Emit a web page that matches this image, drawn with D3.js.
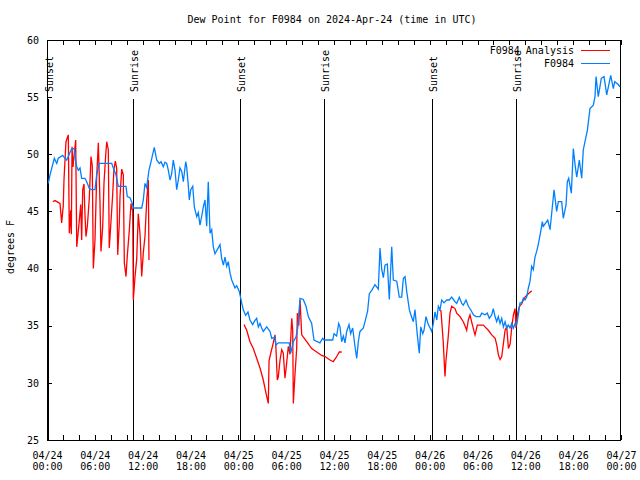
<!DOCTYPE html>
<html>
<head>
<meta charset="utf-8">
<script src="https://cdn.jsdelivr.net/npm/d3@7"></script>
<style>
  html, body { margin: 0; padding: 0; background: #fff; }
  svg { display: block; }
  text { font-family: "DejaVu Sans Mono", "Liberation Mono", monospace; font-size: 10px; fill: #000; }
</style>
</head>
<body>
<svg id="chart" width="640" height="480"></svg>
<script>
// ---------- data ----------
const chartTitle = "Dew Point for F0984 on 2024-Apr-24 (time in UTC)";
const yLabel = "degrees F";
const seriesNames = ["F0984 Analysis", "F0984"];
const yTicks = [25, 30, 35, 40, 45, 50, 55, 60];
const startDay = "2024-04-24";
const endHour = 72;

// Sun events (hours since 04/24 00:00 UTC)
const sunHours = [0.13, 10.83, 24.21, 34.75, 48.3, 58.83];
const sunLabels = ["Sunset", "Sunrise", "Sunset", "Sunrise", "Sunset", "Sunrise"];

// F0984 observations
const obsHours = [0.16,0.38,0.92,1.22,1.42,1.97,2.26,2.47,3.10,3.42,3.51,3.73,3.93,4.14,4.35,4.77,4.98,5.31,5.61,6.02,6.23,6.56,8.12,8.32,8.66,8.94,9.91,10.07,10.41,10.70,10.83,11.88,12.08,12.29,12.50,12.79,13.05,13.46,13.76,14.09,14.30,14.59,14.80,15.02,15.22,15.43,15.64,15.84,16.06,16.27,16.47,16.68,16.90,17.10,17.40,17.52,17.72,17.85,18.03,18.28,18.48,18.78,18.98,19.19,19.41,19.61,19.82,20.03,20.23,20.45,20.66,20.86,21.07,21.70,21.91,22.12,22.33,22.54,22.74,22.96,23.17,23.58,23.80,24.12,24.42,24.62,24.92,25.21,25.46,25.80,26.03,26.30,26.51,26.72,26.93,27.13,27.56,27.97,28.19,28.60,28.72,29.01,30.39,30.57,30.90,31.23,31.45,31.74,32.15,32.49,32.78,33.20,33.49,33.90,34.24,34.58,34.75,35.84,36.00,36.33,36.59,36.75,36.96,37.17,37.38,37.59,37.88,38.09,38.34,38.63,38.85,39.05,39.26,39.68,39.89,40.22,40.43,40.73,41.14,41.56,41.77,41.99,42.19,42.40,42.69,42.94,43.24,43.44,43.87,44.19,44.49,44.70,44.91,45.12,45.45,45.62,45.95,46.16,46.45,46.70,46.88,47.13,47.29,47.54,47.83,48.05,48.26,48.46,48.67,48.89,49.09,49.30,49.51,49.80,50.14,50.46,50.76,51.18,51.39,51.72,52.02,52.22,52.56,52.85,53.15,53.48,53.81,54.31,54.53,54.94,55.23,55.48,55.78,55.98,56.20,56.41,56.61,56.83,57.04,57.25,57.46,57.67,57.87,58.08,58.29,58.50,58.71,58.92,59.12,59.33,59.54,59.75,59.96,60.17,60.38,60.59,60.80,61.00,61.21,61.42,61.62,61.84,61.97,62.13,62.25,62.81,63.10,63.60,63.93,64.14,64.56,64.76,65.11,65.27,65.44,65.77,66.02,66.27,66.45,66.77,67.07,67.27,67.78,68.11,68.53,68.74,68.87,69.15,69.53,69.87,70.21,70.71,71.04,71.21,71.66,71.88];
const obsValues = [47.46,48.2,49.65,49.2,49.65,49.9,49.65,49.5,50.5,50.5,49.8,48.9,48.6,48.8,47.9,47.9,47.6,47.0,46.9,46.9,48.2,49.2,49.2,48.8,48.2,47.2,47.2,46.3,46.2,45.7,45.3,45.3,46.0,47.45,47.1,48.6,49.35,50.6,49.5,49.2,49.35,48.9,49.3,49.2,48.6,47.75,48.3,49.5,48.6,46.9,47.75,48.8,48.5,47.6,49.35,48.9,47.3,46.0,46.9,47.2,45.4,44.55,44.9,43.8,44.6,45.4,46.0,43.7,47.6,43.1,43.4,41.9,41.3,42.1,40.9,40.3,41.0,40.2,40.6,39.6,39.0,38.3,38.5,38.0,37.0,36.4,35.9,36.2,35.5,35.1,35.4,35.65,34.9,35.2,34.8,34.5,34.9,34.5,33.9,34.0,33.3,33.5,33.5,32.6,33.6,34.0,34.8,37.4,37.3,36.7,35.8,35.2,33.75,33.6,33.5,33.9,33.75,33.75,34.3,34.1,35.2,34.9,33.6,34.1,33.5,34.5,35.1,34.3,34.8,33.2,32.15,33.6,34.5,34.8,35.35,36.3,37.8,38.1,38.6,38.2,41.8,39.9,39.2,40.3,40.4,37.3,41.9,39.0,38.9,37.5,37.5,39.15,39.3,38.0,36.4,36.0,35.35,36.4,34.2,32.6,34.9,34.3,34.6,35.8,35.1,34.8,34.5,35.2,36.2,35.5,36.7,36.4,37.25,37.0,37.25,37.25,37.5,37.1,36.95,37.5,36.95,36.8,37.25,36.7,36.4,35.95,35.8,35.8,36.1,35.95,36.1,35.65,35.95,36.5,35.8,35.35,35.8,35.2,35.65,34.9,35.35,34.8,35.05,34.8,35.2,34.8,35.2,35.1,35.95,37.0,37.0,37.4,37.25,37.5,38.3,38.9,40.2,39.9,41.0,41.5,42.1,42.9,43.4,44.1,43.7,44.25,43.4,46.9,45.0,45.85,45.85,44.4,45.6,47.6,47.9,46.6,50.5,48.9,48.0,49.5,47.9,50.4,52.1,54.0,54.3,55.05,56.8,55.05,56.65,56.8,55.2,56.9,55.75,56.35,56.1,55.9];

// F0984 Analysis (null = gap)
const anaHours = [0.72,1.00,1.63,1.84,2.04,2.13,2.38,2.67,2.80,2.97,3.05,3.14,3.26,3.60,3.73,3.93,4.05,4.23,4.35,4.48,4.64,4.77,4.89,5.06,5.31,5.52,5.68,5.81,6.02,6.23,6.44,6.56,6.65,6.77,6.99,7.15,7.36,7.49,7.69,7.81,7.99,8.24,8.40,8.57,8.74,8.87,9.07,9.16,9.37,9.57,9.70,9.91,10.07,10.32,10.54,10.75,10.83,11.04,11.25,11.45,11.67,11.88,12.08,12.29,12.51,12.71,12.79,
  18.0,
  24.71,25.05,25.46,25.88,26.30,26.72,27.13,27.47,27.76,27.85,28.10,28.39,28.60,28.72,28.89,29.01,29.23,29.44,29.64,29.85,30.06,30.27,30.48,30.70,30.82,30.90,31.11,31.32,31.40,31.58,31.74,31.95,32.58,33.20,33.83,34.46,34.87,35.50,35.91,36.25,36.67,36.97,
  43.0,
  49.21,49.42,49.71,49.92,50.05,50.33,50.55,50.76,51.18,51.39,51.81,52.22,52.43,52.64,52.85,53.06,53.28,53.57,53.69,53.98,54.73,54.94,55.36,55.78,56.21,56.42,56.62,56.83,57.04,57.26,57.46,57.67,57.88,58.09,58.29,58.50,58.71,58.83,59.00,59.25,59.54,59.75,59.96,60.38,60.80];
const anaValues = [45.85,45.95,45.7,44.0,45.5,47.75,51.1,51.7,43.1,45.1,43.0,50.65,48.9,51.25,41.9,43.3,44.2,45.6,42.5,46.9,47.4,44.6,42.8,43.7,46.2,49.8,49.0,40.0,42.5,48.0,51.0,48.0,45.7,41.5,43.7,47.5,49.9,51.1,50.4,41.8,43.7,46.5,48.7,49.4,48.8,41.2,44.0,46.3,48.7,48.2,40.5,39.3,41.1,43.3,45.7,45.0,37.25,39.3,40.8,44.8,43.0,39.3,41.4,42.8,46.0,47.75,40.75,
  null,
  35.1,34.6,33.6,33.0,32.15,31.3,30.25,29.1,28.2,31.9,32.7,33.5,34.2,33.0,30.25,30.5,32.0,32.9,32.6,30.4,31.7,33.2,32.5,35.65,34.6,28.2,30.8,33.0,36.1,35.0,37.25,34.2,33.6,33.0,32.7,32.4,32.3,32.0,31.85,32.2,32.7,32.7,
  null,
  36.4,36.3,33.5,30.55,32.0,34.05,36.1,36.7,36.5,36.1,35.8,35.35,35.0,34.6,35.5,35.95,35.3,34.5,34.2,35.05,35.05,34.9,34.6,34.2,33.9,33.3,32.45,32.05,32.3,33.5,34.6,34.9,33.0,33.4,34.8,35.95,36.5,34.8,35.95,36.7,36.9,37.25,37.5,37.8,38.05];

// ---------- drawing ----------
const base = new Date(startDay + "T00:00:00Z").getTime();
const toDate = h => new Date(base + h * 3600e3);

const plot = { left: 47, right: 621, top: 40, bottom: 440 };
const svg = d3.select("#chart");

const x = d3.scaleUtc().domain([toDate(0), toDate(endHour)]).range([plot.left, plot.right]);
const y = d3.scaleLinear().domain([25, 60]).range([plot.bottom, plot.top]);

svg.append("clipPath").attr("id", "clip").append("rect")
  .attr("x", plot.left).attr("y", plot.top)
  .attr("width", plot.right - plot.left).attr("height", plot.bottom - plot.top);

const minorTicks = d3.range(0, endHour + 1, 2).map(toDate);
const fmtDay = d3.utcFormat("%m/%d"), fmtTime = d3.utcFormat("%H:%M");

// bottom axis
const gB = svg.append("g").attr("transform", `translate(0,${plot.bottom})`)
  .call(d3.axisBottom(x).tickValues(minorTicks).tickSize(-5).tickPadding(0).tickFormat(() => ""));
gB.select(".domain").remove();
gB.selectAll(".tick").each(function(d) {
  const hrs = (d.getTime() - base) / 3600e3;
  const t = d3.select(this).select("text");
  if (hrs % 6 !== 0) return;
  t.attr("y", 0).attr("dy", null);
  t.append("tspan").attr("x", 0).attr("y", 18.5).text(fmtDay(d));
  t.append("tspan").attr("x", 0).attr("y", 30).text(fmtTime(d));
});

// top axis
const gT = svg.append("g").attr("transform", `translate(0,${plot.top})`)
  .call(d3.axisTop(x).tickValues(minorTicks).tickSize(-5).tickFormat(() => ""));
gT.select(".domain").remove();

// left axis
const gL = svg.append("g").attr("transform", `translate(${plot.left},0)`)
  .call(d3.axisLeft(y).tickValues(yTicks).tickSize(-5).tickPadding(8).tickFormat(d3.format("d")));
gL.select(".domain").remove();

// right axis
const gR = svg.append("g").attr("transform", `translate(${plot.right},0)`)
  .call(d3.axisRight(y).tickValues(yTicks).tickSize(-5).tickFormat(() => ""));
gR.select(".domain").remove();

svg.selectAll(".tick line").attr("stroke", "#000").attr("shape-rendering", "crispEdges");
svg.selectAll(".tick text").attr("font-family", "DejaVu Sans Mono").attr("font-size", 10).attr("fill", "#000");

// border
svg.append("rect")
  .attr("x", plot.left + 0.5).attr("y", plot.top + 0.5)
  .attr("width", plot.right - plot.left - 1).attr("height", plot.bottom - plot.top)
  .attr("fill", "none").attr("stroke", "#000").attr("shape-rendering", "crispEdges");

// sun event lines
const sun = svg.append("g");
sunHours.forEach((h, i) => {
  const sx = Math.round(x(toDate(h))) + 0.5;
  sun.append("line").attr("x1", sx).attr("x2", sx).attr("y1", 99).attr("y2", plot.bottom)
    .attr("stroke", "#000").attr("stroke-width", 1).attr("shape-rendering", "crispEdges");
  sun.append("text")
    .attr("transform", `translate(${sx + 4},92) rotate(-90)`)
    .attr("text-anchor", "start")
    .text(sunLabels[i]);
});

// lines
const line = d3.line()
  .defined(d => d.v !== null)
  .x(d => x(toDate(d.h)))
  .y(d => y(d.v));

const anaData = anaHours.map((h, i) => ({ h, v: anaValues[i] }));
const obsData = obsHours.map((h, i) => ({ h, v: obsValues[i] }));

const colors = ["#ff0000", "#0080ff"];
const gLines = svg.append("g").attr("clip-path", "url(#clip)");
gLines.append("path").datum(anaData).attr("d", line)
  .attr("fill", "none").attr("stroke", colors[0]).attr("stroke-width", 1.3);
gLines.append("path").datum(obsData).attr("d", line)
  .attr("fill", "none").attr("stroke", colors[1]).attr("stroke-width", 1.3);

// legend
seriesNames.forEach((name, i) => {
  const ly = 50 + i * 13;
  svg.append("text").attr("x", 574).attr("y", ly + 3.5).attr("text-anchor", "end").text(name);
  svg.append("line").attr("x1", 581).attr("x2", 610).attr("y1", ly + 0.5).attr("y2", ly + 0.5)
    .attr("stroke", colors[i]).attr("stroke-width", 1).attr("shape-rendering", "crispEdges");
});

// title
svg.append("text").attr("x", 332).attr("y", 23).attr("text-anchor", "middle").text(chartTitle);

// y label
svg.append("text").attr("transform", "translate(14,247) rotate(-90)")
  .attr("text-anchor", "middle").text(yLabel);
</script>
</body>
</html>
